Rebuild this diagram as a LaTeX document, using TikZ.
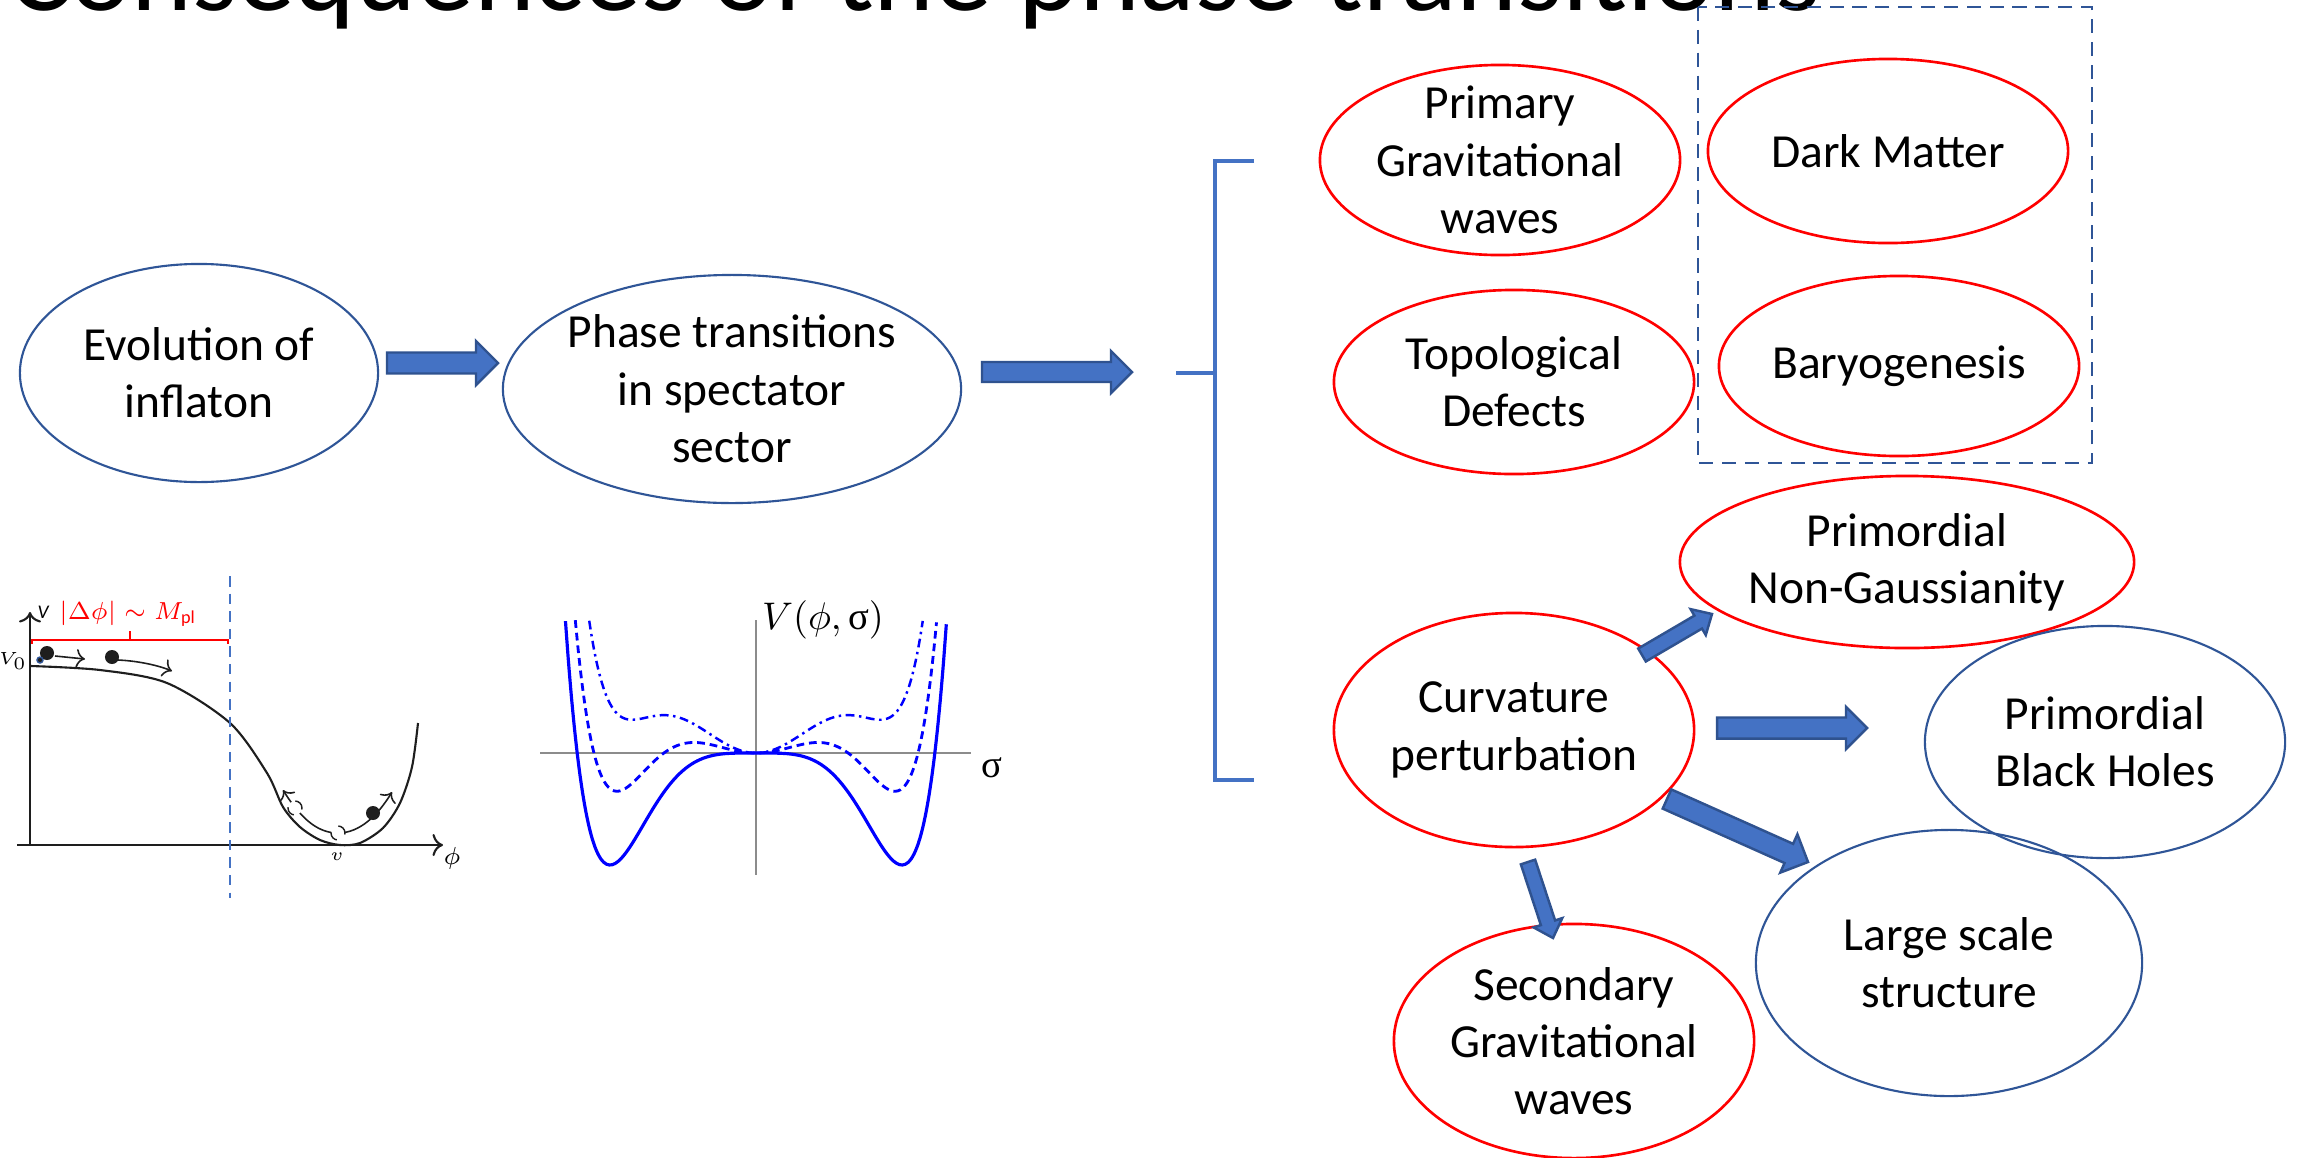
\documentclass[tikz,border=0pt]{standalone}
\usepackage{fontspec}
\setmainfont{Carlito}
\newfontfamily\greekserif{Liberation Serif}
\usetikzlibrary{calc,arrows.meta}
\definecolor{slidenavy}{HTML}{2F5597}
\definecolor{slidered}{HTML}{FF0000}
\definecolor{slideblue}{HTML}{4472C4}
\definecolor{slideedge}{HTML}{2F528F}
\definecolor{plotblue}{HTML}{0000FF}
\definecolor{plotgray}{HTML}{8C8C8C}
\definecolor{plotink}{HTML}{1E1E1E}

\tikzset{
  oval text/.style={align=center, font=\fontsize{13.5}{16.3}\selectfont, inner sep=0pt},
  red oval/.style={draw=slidered, line width=0.75pt},
  navy oval/.style={draw=slidenavy, line width=0.6pt},
  fat arrow/.style={fill=slideblue, draw=slideedge, line width=0.7pt, line join=miter},
  small label/.style={font=\fontsize{5.5}{6}\selectfont, inner sep=0.5pt},
}

% #1 shaft half width, #2 head half width, #3 head length, #4 from, #5 to
\newcommand{\fatarrow}[5]{%
  \coordinate (neck) at ($(#5)!#3!(#4)$);
  \filldraw[fat arrow]
    ($(#4)!#1!90:(#5)$) -- ($(neck)!#1!90:(#5)$) -- ($(neck)!#2!90:(#5)$) -- (#5)
    -- ($(neck)!#2!-90:(#5)$) -- ($(neck)!#1!-90:(#5)$) -- ($(#4)!#1!-90:(#5)$) -- cycle;
}

\begin{document}
\begin{tikzpicture}[x=0.01cm, y=-0.01cm]
  \clip (0,0) rectangle (2300,1157);
  \fill[white] (0,0) rectangle (2300,1157);

  % title, cut by the top edge
  \node[anchor=base west, inner sep=0pt, font=\fontsize{32.9}{39}\selectfont] (title) at (8,10)
    {Consequences of the phase transitions};

  % main chain
  \node[oval text] (evo) at (199,373) {Evolution of\\inflaton};
  \draw[navy oval] (evo.center) ellipse [x radius=1.79cm, y radius=1.09cm];

  \node[oval text] (phase) at (732,389) {Phase transitions\\in spectator\\sector};
  \draw[navy oval] (phase.center) ellipse [x radius=2.29cm, y radius=1.14cm];

  \coordinate (a1s) at (387,363);
  \coordinate (a1e) at (498,363);
  \fatarrow{0.105cm}{0.22cm}{0.22cm}{a1s}{a1e}

  \coordinate (a2s) at (982,372);
  \coordinate (a2e) at (1132,372);
  \fatarrow{0.1cm}{0.21cm}{0.21cm}{a2s}{a2e}

  % bracket
  \draw[slideblue, line width=1.3pt] (1254,161) -- (1215,161) -- (1215,780) -- (1254,780);
  \draw[slideblue, line width=1.3pt] (1176,373) -- (1215,373);

  % consequences
  \draw[slidenavy, line width=0.6pt, dash pattern=on 4pt off 2.5pt] (1698,7) rectangle (2092,463);

  \node[oval text] (pgw) at (1500,160) {Primary\\Gravitational\\waves};
  \draw[red oval] (pgw.center) ellipse [x radius=1.80cm, y radius=0.95cm];

  \node[oval text] (dm) at (1888,151) {Dark Matter};
  \draw[red oval] (dm.center) ellipse [x radius=1.80cm, y radius=0.92cm];

  \node[oval text] (topo) at (1514,382) {Topological\\Defects};
  \draw[red oval] (topo.center) ellipse [x radius=1.80cm, y radius=0.92cm];

  \node[oval text] (baryo) at (1899,366) {Baryogenesis};
  \draw[red oval] (baryo.center) ellipse [x radius=1.80cm, y radius=0.90cm];

  \node[oval text] (ng) at (1907,562) {Primordial\\Non-Gaussianity};
  \draw[red oval] (ng.center) ellipse [x radius=2.27cm, y radius=0.86cm];

  \node[oval text] (curv) at (1514,730) {Curvature\\perturbation};
  \draw[red oval] (curv.center) ellipse [x radius=1.80cm, y radius=1.17cm];

  \node[oval text] (pbh) at (2105,742) {Primordial\\Black Holes};
  \draw[navy oval] (pbh.center) ellipse [x radius=1.80cm, y radius=1.16cm];

  \node[oval text] (lss) at (1949,963) {Large scale\\structure};
  \draw[navy oval] (lss.center) ellipse [x radius=1.93cm, y radius=1.33cm];

  \node[oval text] (sgw) at (1574,1041) {Secondary\\Gravitational\\waves};
  \draw[red oval] (sgw.center) ellipse [x radius=1.80cm, y radius=1.17cm];

  \coordinate (a3s) at (1642,655);
  \coordinate (a3e) at (1712,614);
  \fatarrow{0.075cm}{0.15cm}{0.16cm}{a3s}{a3e}

  \coordinate (a4s) at (1717,728);
  \coordinate (a4e) at (1867,728);
  \fatarrow{0.105cm}{0.21cm}{0.21cm}{a4s}{a4e}

  \coordinate (a5s) at (1667,799);
  \coordinate (a5e) at (1808,862);
  \fatarrow{0.105cm}{0.21cm}{0.21cm}{a5s}{a5e}

  \coordinate (a6s) at (1528,862);
  \coordinate (a6e) at (1553,938);
  \fatarrow{0.075cm}{0.15cm}{0.16cm}{a6s}{a6e}

  % inflaton potential
  \draw[plotink, line width=0.6pt, -{To[length=3pt]}] (30,845) -- (30,612);
  \draw[plotink, line width=0.6pt, -{To[length=3pt]}] (17,845) -- (443,845);
  \node[small label, font=\fontsize{5.5}{6}\selectfont\itshape] (vaxis) at (43,612) {V};
  \node[small label] (vnought) at (13,661) {$V_0$};
  \node[small label] (vmin) at (337,857) {$v$};
  \node[small label, font=\fontsize{7}{8}\selectfont] (phiaxis) at (452,858) {$\phi$};
  \draw[plotink, line width=0.6pt] plot[smooth] coordinates {(31,666) (100,670) (167,683)
    (230,723) (267,773) (283,807) (300,827) (320,840) (340,845) (360,843) (383,828)
    (400,803) (412,767) (418,723)};
  \draw[plotink, line width=0.45pt, {To[length=2.5pt]}-{To[length=2.5pt]}]
    (283,790) .. controls (303,822) and (320,833) .. (338,833)
    .. controls (360,833) and (378,815) .. (392,792);
  \draw[plotink, line width=0.4pt, dashed, fill=white] (295,808) circle [radius=0.07cm];
  \draw[plotink, line width=0.4pt, dashed, fill=white] (338,833) circle [radius=0.07cm];
  \fill[plotink] (373,813) circle [radius=0.07cm];
  \fill[plotink] (47,653) circle [radius=0.07cm];
  \draw[slidenavy, fill=plotink] (40,660) circle [radius=0.03cm];
  \draw[plotink, line width=0.45pt, -{To[length=2.5pt]}] (55,656) -- (85,659);
  \fill[plotink] (112,657) circle [radius=0.07cm];
  \draw[plotink, line width=0.45pt, -{To[length=2.5pt]}]
    (118,660) .. controls (140,661) and (160,666) .. (172,671);
  \draw[slidered, line width=0.5pt] (32,644) -- (32,640) -- (228,640) -- (228,644);
  \draw[slidered, line width=0.5pt] (130,640) -- (130,631);
  \node[slidered, font=\fontsize{7.4}{9}\selectfont, inner sep=0pt] (dphi) at (128,614)
    {$|\Delta\phi|\sim M_{\mathrm{pl}}$};
  \draw[slideblue, line width=0.6pt, dash pattern=on 3pt off 2pt] (230,576) -- (230,898);

  % spectator potential
  \draw[plotgray, line width=0.6pt] (756,620) -- (756,875);
  \draw[plotgray, line width=0.6pt] (540,753) -- (971,753);
  \node[font=\fontsize{11}{13}\selectfont, inner sep=0pt] (vsigma) at (823,620)
    {$V(\phi,\mbox{\greekserif σ})$};
  \node[font=\fontsize{11}{13}\selectfont\greekserif, inner sep=0pt] (sigaxis) at (992,768) {σ};
  \draw[plotblue, line width=0.9pt] plot[domain=-1.305:1.305, samples=131, smooth]
    ({756+146*\x}, {753-224*((\x*\x)^3-1.5*(\x*\x)^2)});
  \draw[plotblue, line width=0.8pt, dash pattern=on 2.2pt off 1.4pt]
    plot[domain=-1.30:1.30, samples=131, smooth]
    ({756+139*\x}, {753-190*((\x*\x)^3-1.7985*(\x*\x)^2+0.597*\x*\x)});
  \draw[plotblue, line width=0.7pt, dash pattern=on 2.5pt off 1.3pt on 0.7pt off 1.3pt]
    plot[domain=-1.345:1.345, samples=131, smooth]
    ({756+124*\x}, {753-102*((\x*\x)^3-2.3257*(\x*\x)^2+1.6515*\x*\x)});
\end{tikzpicture}
\end{document}
